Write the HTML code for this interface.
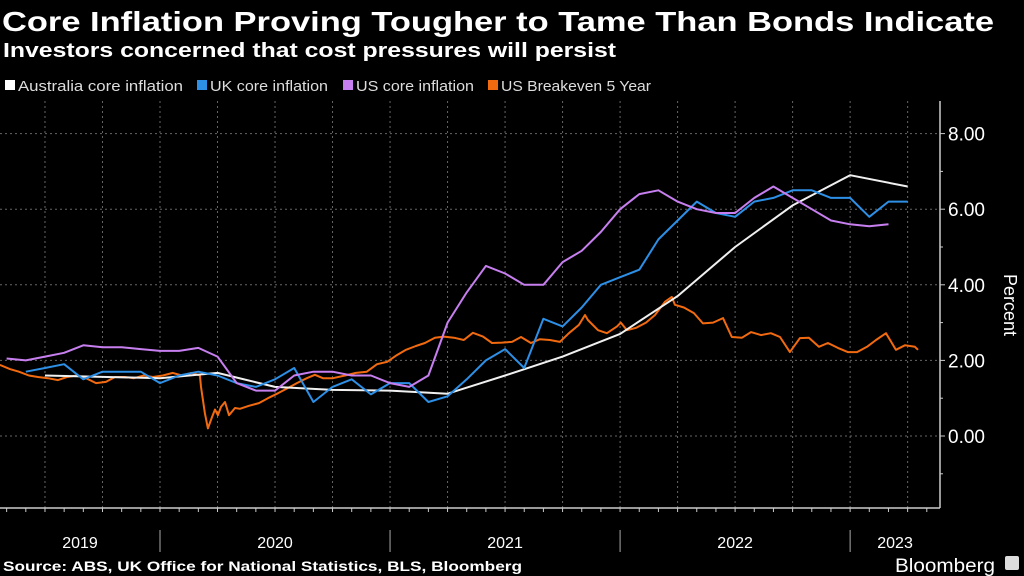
<!DOCTYPE html>
<html><head><meta charset="utf-8">
<style>
html,body{margin:0;padding:0;background:#000;}
svg{display:block;font-family:"Liberation Sans","DejaVu Sans",sans-serif;}
</style></head>
<body>
<svg id="chart" width="1024" height="576" viewBox="0 0 1024 576" xmlns="http://www.w3.org/2000/svg">
<rect width="1024" height="576" fill="#000"/>
<text x="2" y="31" fill="#fff" font-size="28" font-weight="bold" textLength="992" lengthAdjust="spacingAndGlyphs">Core Inflation Proving Tougher to Tame Than Bonds Indicate</text>
<text x="3" y="57" fill="#fff" font-size="20" font-weight="bold" textLength="613" lengthAdjust="spacingAndGlyphs">Investors concerned that cost pressures will persist</text>
<g font-size="15" fill="#ddd">
 <g><rect x="5" y="80" width="10" height="10" fill="#fff"/><text x="18" y="91" textLength="165" lengthAdjust="spacingAndGlyphs">Australia core inflation</text></g>
 <g><rect x="197" y="80" width="10" height="10" fill="#2d8fe6"/><text x="210" y="91" textLength="118" lengthAdjust="spacingAndGlyphs">UK core inflation</text></g>
 <g><rect x="343" y="80" width="10" height="10" fill="#c77ff0"/><text x="356" y="91" textLength="118" lengthAdjust="spacingAndGlyphs">US core inflation</text></g>
 <g><rect x="488" y="80" width="10" height="10" fill="#f26a10"/><text x="501" y="91" textLength="150" lengthAdjust="spacingAndGlyphs">US Breakeven 5 Year</text></g>
</g>
<g id="grid"></g>
<g id="axes"></g>
<g id="series"></g>
<text transform="translate(1004,305) rotate(90)" fill="#fff" font-size="18" text-anchor="middle">Percent</text>
<text x="3" y="571" fill="#fff" font-size="14" font-weight="bold" textLength="519" lengthAdjust="spacingAndGlyphs">Source: ABS, UK Office for National Statistics, BLS, Bloomberg</text>
<text x="895" y="572" fill="#fff" font-size="19" textLength="100" lengthAdjust="spacingAndGlyphs">Bloomberg</text>
<rect x="1005" y="556" width="14" height="14" rx="2" fill="#ddd"/>
</svg>
<script>
// Month index: 0 = Jan 2019
const yearLabels = ["2019","2020","2021","2022","2023"];
const yTicks = [0,2,4,6,8];
const ausMonths = [6,12,15,18,21,24,27,30,33,36,39,42,45,48,51];
const ausValues = [1.6,1.53,1.67,1.3,1.22,1.2,1.12,1.6,2.1,2.7,3.7,5.0,6.1,6.9,6.6];
const ukMonths = [5,6,7,8,9,10,11,12,13,14,15,16,17,18,19,20,21,22,23,24,25,26,27,28,29,30,31,32,33,34,35,36,37,38,39,40,41,42,43,44,45,46,47,48,49,50,51];
const ukValues = [1.7,1.8,1.9,1.5,1.7,1.7,1.7,1.4,1.6,1.7,1.6,1.4,1.3,1.5,1.8,0.9,1.3,1.5,1.1,1.4,1.4,0.9,1.05,1.5,2.0,2.3,1.8,3.1,2.9,3.4,4.0,4.2,4.4,5.2,5.7,6.2,5.9,5.8,6.2,6.3,6.5,6.5,6.3,6.3,5.8,6.2,6.2];
const usMonths = [4,5,6,7,8,9,10,11,12,13,14,15,16,17,18,19,20,21,22,23,24,25,26,27,28,29,30,31,32,33,34,35,36,37,38,39,40,41,42,43,44,45,46,47,48,49,50,51];
const usValues = [2.05,2.0,2.1,2.2,2.4,2.35,2.35,2.3,2.25,2.25,2.33,2.1,1.4,1.2,1.2,1.6,1.7,1.7,1.6,1.6,1.4,1.3,1.6,3.0,3.8,4.5,4.3,4.0,4.0,4.6,4.9,5.4,6.0,6.4,6.5,6.2,6.0,5.9,5.9,6.3,6.6,6.3,6.0,5.7,5.6,5.55,5.6];
const beMonths = [3.65,4.17,4.64,5.16,5.63,6.15,6.68,7.15,7.67,8.14,8.66,9.18,9.65,10.17,10.64,11.16,11.63,12.15,12.67,13.14,13.67,14.08,14.14,14.34,14.5,14.71,14.87,15.02,15.18,15.39,15.6,15.91,16.17,16.64,17.16,17.63,18.15,18.67,19.14,19.66,20.08,20.5,21.02,21.65,22.22,22.79,23.32,23.84,24.36,24.83,25.35,25.82,26.34,26.81,27.33,27.85,28.32,28.85,29.32,29.84,30.36,30.83,31.35,31.82,32.34,32.86,33.33,33.85,34.17,34.32,34.85,35.31,35.84,36.04,36.36,36.83,37.35,37.82,38.34,38.7,38.86,39.33,39.85,40.32,40.85,41.37,41.83,42.36,42.83,43.35,43.87,44.34,44.86,45.38,45.85,46.37,46.84,47.36,47.88,48.36,48.88,49.35,49.87,50.39,50.86,51.38,51.54];
const beValues = [1.88,1.77,1.7,1.6,1.56,1.53,1.48,1.56,1.6,1.53,1.4,1.43,1.56,1.56,1.53,1.6,1.56,1.6,1.67,1.6,1.67,1.6,1.3,0.6,0.2,0.5,0.7,0.55,0.77,0.9,0.55,0.74,0.72,0.8,0.87,1.0,1.13,1.27,1.4,1.53,1.62,1.53,1.53,1.6,1.67,1.7,1.9,1.96,2.14,2.28,2.38,2.46,2.6,2.63,2.6,2.54,2.73,2.63,2.46,2.47,2.49,2.62,2.46,2.56,2.54,2.49,2.72,2.94,3.2,3.07,2.8,2.72,2.9,3.0,2.8,2.86,3.0,3.2,3.55,3.68,3.47,3.4,3.25,2.98,3.0,3.12,2.62,2.6,2.75,2.67,2.72,2.62,2.22,2.59,2.6,2.36,2.46,2.33,2.22,2.22,2.36,2.54,2.72,2.28,2.4,2.36,2.28];

const NS = "http://www.w3.org/2000/svg";
const plotLeft = 0, plotRight = 940, plotTop = 101, plotBottom = 508;
function xScale(m){ return 160 + (m - 12) * 19.17; }
function yScale(v){ return 436 - v * 37.8; }
function mk(tag, attrs, parent){
  const e = document.createElementNS(NS, tag);
  for (const k in attrs) e.setAttribute(k, attrs[k]);
  parent.appendChild(e); return e;
}
const grid = document.getElementById('grid');
const axes = document.getElementById('axes');
const series = document.getElementById('series');

// horizontal gridlines + y labels
yTicks.forEach(v => {
  const y = yScale(v);
  const gl = mk('line', {x1:plotLeft, x2:plotRight, y1:y, y2:y, stroke:'#666', 'stroke-width':1, 'stroke-dasharray':'2,3'}, grid);
  
  
  const tk = mk('line', {x1:plotRight, x2:plotRight+5, y1:y, y2:y, stroke:'#ccc', 'stroke-width':1}, axes);
  
  
  const t = mk('text', {x:plotRight+8, y:y+7, fill:'#fff', 'font-size':19}, axes);
  t.textContent = v.toFixed(2);
  
  
});
[-1,1,3,5,7].forEach(v => {
  const y = yScale(v);
  const tk = mk('line', {x1:plotRight, x2:plotRight+3, y1:y, y2:y, stroke:'#ccc', 'stroke-width':1}, axes);
  
  
});
// quarterly vertical gridlines, monthly ticks
for (let m = 0; m <= 54; m++) {
  const x = xScale(m);
  if (x < 0 || x > plotRight) continue;
  if (m % 3 === 0) {
    const gl = mk('line', {x1:x, x2:x, y1:plotTop, y2:plotBottom, stroke:'#666', 'stroke-width':1, 'stroke-dasharray':'2,3'}, grid);
    
    
  }
  const tk = mk('line', {x1:x, x2:x, y1:plotBottom, y2:plotBottom+4, stroke:'#ccc', 'stroke-width':1}, axes);
  
  
}
// axis lines
const ya = mk('line', {x1:plotRight, x2:plotRight, y1:plotTop, y2:plotBottom, stroke:'#ccc', 'stroke-width':1.5}, axes);


const xa = mk('line', {x1:0, x2:plotRight, y1:plotBottom, y2:plotBottom, stroke:'#ccc', 'stroke-width':1.5}, axes);


// year labels
yearLabels.forEach((lab, i) => {
  const x0 = Math.max(0, xScale(i*12)), x1 = Math.min(plotRight, xScale(i*12+12));
  const t = mk('text', {x:(x0+x1)/2, y:548, fill:'#fff', 'font-size':16, 'text-anchor':'middle'}, axes);
  t.textContent = lab;
  
  
  if (i > 0) {
    const s = mk('line', {x1:xScale(i*12), x2:xScale(i*12), y1:530, y2:552, stroke:'#aaa', 'stroke-width':1}, axes);
    
    
  }
});
function drawLine(ms, vs, color, name, w){
  const d = ms.map((m,i) => (i?'L':'M') + xScale(m).toFixed(1) + ',' + yScale(vs[i]).toFixed(1)).join(' ');
  const p = mk('path', {d:d, fill:'none', stroke:color, 'stroke-width':w, 'stroke-linejoin':'round'}, series);
  
  
}
drawLine(beMonths, beValues, '#f26a10', 'us-breakeven-line', 2);
drawLine(ausMonths, ausValues, '#f0f0f0', 'australia-core-line', 2);
drawLine(ukMonths, ukValues, '#2d8fe6', 'uk-core-line', 2);
drawLine(usMonths, usValues, '#c77ff0', 'us-core-line', 2);
</script>
</body></html>
